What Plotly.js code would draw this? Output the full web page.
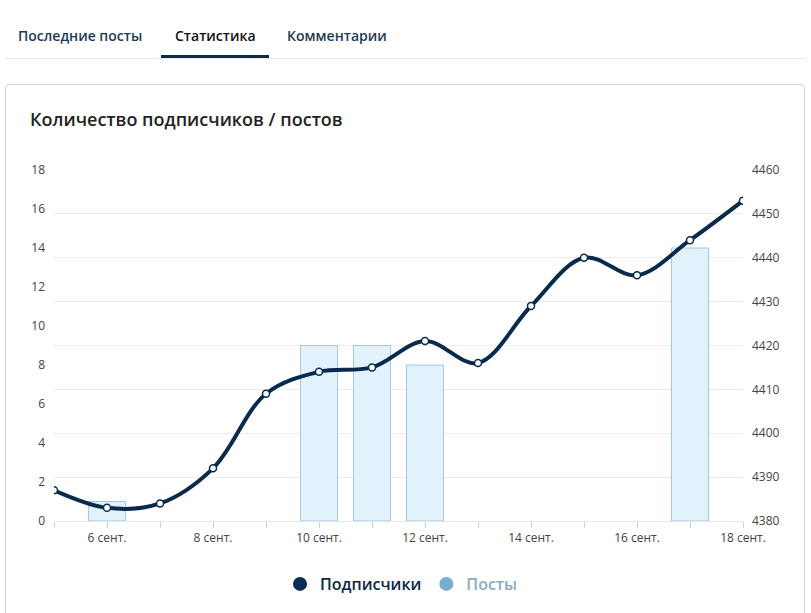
<!DOCTYPE html>
<html>
<head>
<meta charset="utf-8">
<script src="https://cdn.plot.ly/plotly-3.0.1.min.js"></script>
<style>
  body { margin: 0; background: #fff; font-family: "Open Sans", sans-serif; }
  .tabs { position: absolute; left: 5px; top: 0; width: 800px; height: 58px; border-bottom: 1px solid #e8e8e8; }
  .tab { position: absolute; top: 26px; font-size: 14px; font-weight: 600; color: #1e3a55; }
  .tab.active { color: #111; }
  .underline { position: absolute; left: 156px; top: 55px; width: 108px; height: 3px; background: #0b2b4c; }
  .card { position: absolute; left: 5px; top: 84px; width: 798px; height: 560px; border: 1px solid #d2d2d2; border-radius: 4px; }
  #chart { position: absolute; left: 0; top: 0; width: 798px; height: 528px; }
</style>
</head>
<body>
<div class="tabs">
  <div class="tab" style="left:13px">Последние посты</div>
  <div class="tab active" style="left:170px">Статистика</div>
  <div class="tab" style="left:282px">Комментарии</div>
  <div class="underline"></div>
</div>
<div class="card"><div id="chart"></div></div>
<script>
// days of September
var days = [5, 6, 7, 8, 9, 10, 11, 12, 13, 14, 15, 16, 17, 18];
var subscribers = [4387, 4383, 4384, 4392, 4409, 4414, 4415, 4421, 4416, 4429, 4440, 4436, 4444, 4453];
var posts = [0, 1, 0, 0, 0, 9, 9, 8, 0, 0, 0, 0, 14, 0];
var tickDays = [6, 8, 10, 12, 14, 16, 18];
var tickLabels = ['6 сент.', '8 сент.', '10 сент.', '12 сент.', '14 сент.', '16 сент.', '18 сент.'];

var navy = '#082a4d';
// no outline on empty days
var barLines = posts.map(function (v) { return v > 0 ? 1 : 0 });

var data = [
  {
    type: 'bar', x: days, y: posts, width: 0.7, yaxis: 'y',
    marker: { color: '#e1f2fc', line: { color: '#a3c6dc', width: barLines } },
    showlegend: false, hoverinfo: 'x+y'
  },
  {
    type: 'scatter', mode: 'lines+markers', x: days, y: subscribers, yaxis: 'y2',
    line: { color: navy, width: 4, shape: 'spline', smoothing: 1 },
    marker: { color: '#fff', size: 7, line: { color: navy, width: 1.5 } },
    showlegend: false
  },
  // legend entries
  { type: 'scatter', mode: 'markers', x: [null], y: [null], name: 'Подписчики',
    marker: { color: '#0b2c55', size: 14 } },
  { type: 'scatter', mode: 'markers', x: [null], y: [null],
    name: '<span style="color:#8aaac2">Посты</span>',
    marker: { color: '#7aadd4', size: 14 } }
];

var layout = {
  width: 798, height: 528,
  margin: { l: 48, r: 61, t: 85, b: 92 },
  paper_bgcolor: 'rgba(0,0,0,0)', plot_bgcolor: 'rgba(0,0,0,0)',
  font: { family: '"Open Sans", sans-serif', color: '#444', size: 12 },
  title: {
    text: 'Количество подписчиков / постов',
    x: 24 / 798, xanchor: 'left', xref: 'container',
    y: 1 - 35 / 528, yanchor: 'middle', yref: 'container',
    font: { size: 18, color: '#222', weight: 600 }
  },
  bargap: 0,
  xaxis: {
    range: [5, 18], tickmode: 'array', tickvals: tickDays, ticktext: tickLabels,
    ticks: 'outside', ticklen: 6, tickcolor: '#d0d0d0', tickfont: { size: 12, color: '#444' },
    minor: { dtick: 1, tick0: 5, ticks: 'outside', ticklen: 6, tickcolor: '#d0d0d0', showgrid: false },
    showgrid: false, zeroline: false, showline: true, linecolor: '#e6e6e6', fixedrange: true
  },
  yaxis: {
    range: [0, 18], dtick: 2, showgrid: false, zeroline: false,
    ticks: '', ticklabelstandoff: 8, tickfont: { size: 12, color: '#444' }
  },
  yaxis2: {
    range: [4380, 4460], dtick: 10, overlaying: 'y', side: 'right',
    showgrid: true, gridcolor: '#ececec', zeroline: false,
    ticks: '', ticklabelstandoff: 8, tickfont: { size: 12, color: '#444' }
  },
  showlegend: true,
  legend: {
    orientation: 'h', xref: 'container', yref: 'container',
    x: 0.495, xanchor: 'center', y: 29 / 528, yanchor: 'middle',
    font: { size: 16, color: '#0d2742', weight: 600 },
    itemwidth: 30, tracegroupgap: 0
  }
};

Plotly.newPlot('chart', data, layout, { displayModeBar: false, staticPlot: true });
</script>
</body>
</html>
